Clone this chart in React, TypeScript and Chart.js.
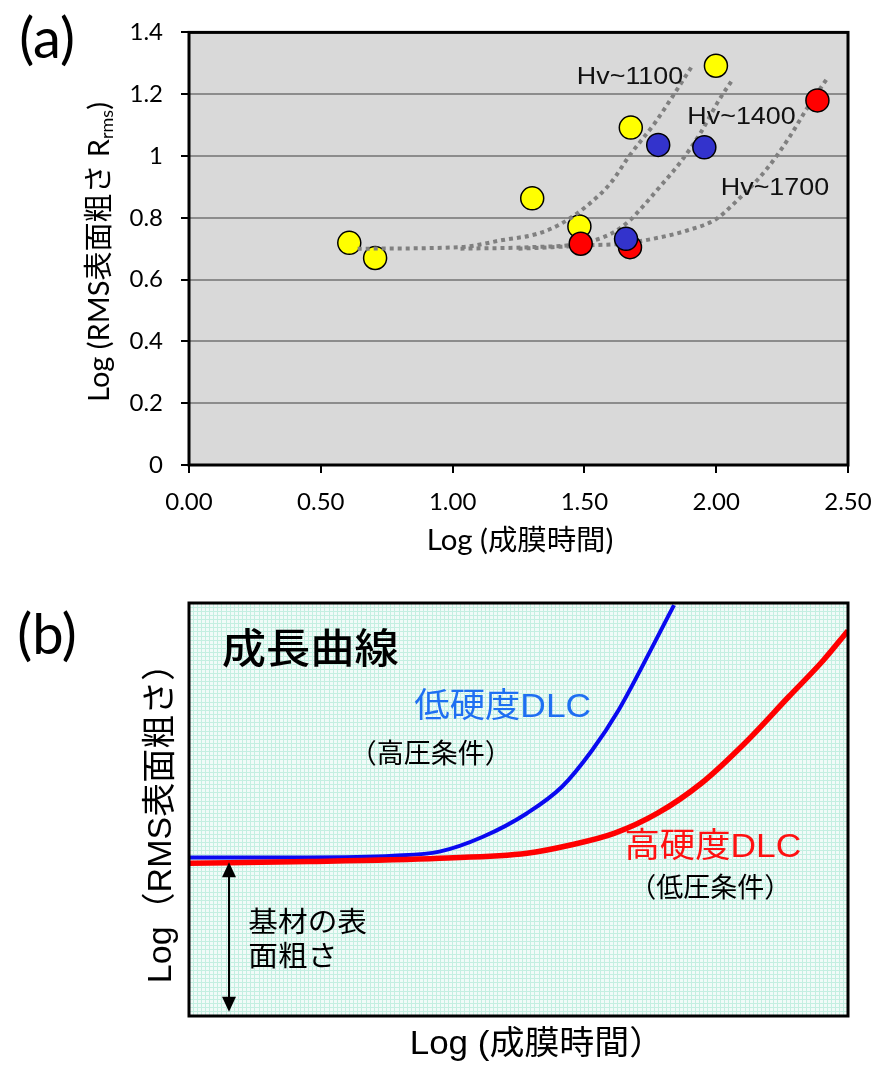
import React, { useEffect, useRef } from "react";
import { Chart, registerables } from "chart.js";
Chart.register(...registerables);

// ---------- Panel (a) data ----------
const yellowX = [0.608, 0.706, 1.302, 1.481, 1.676, 1.999];
const yellowY = [0.719, 0.67, 0.863, 0.772, 1.092, 1.292];
const redX = [1.486, 1.673, 2.384];
const redY = [0.716, 0.705, 1.18];
const blueX = [1.658, 1.78, 1.955];
const blueY = [0.732, 1.036, 1.028];

const hv1100X = [0.64, 1.03, 1.19, 1.32, 1.41, 1.51, 1.6, 1.67, 1.77, 1.84, 1.91];
const hv1100Y = [0.7, 0.705, 0.728, 0.748, 0.78, 0.839, 0.913, 1.0, 1.11, 1.2, 1.293];
const hv1400X = [1.03, 1.3, 1.48, 1.6, 1.67, 1.72, 1.79, 1.86, 1.94, 2.01, 2.06];
const hv1400Y = [0.7, 0.705, 0.716, 0.748, 0.79, 0.835, 0.904, 0.975, 1.074, 1.18, 1.245];
const hv1700X = [1.25, 1.38, 1.51, 1.64, 1.76, 1.89, 2.0, 2.06, 2.19, 2.28, 2.34, 2.42];
const hv1700Y = [0.7, 0.705, 0.711, 0.716, 0.732, 0.759, 0.796, 0.84, 0.956, 1.064, 1.148, 1.25];

const hvLabels = ["Hv~1100", "Hv~1400", "Hv~1700"];
const hvLabelX = [1.673, 2.096, 2.223];
const hvLabelY = [1.256, 1.125, 0.894];

const xTicksA = [0, 0.5, 1.0, 1.5, 2.0, 2.5];

// ---------- Panel (b) data ----------
const lowHardX = [0, 18, 31, 38, 44.6, 51.3, 56.6, 61.2, 65.2, 68.5, 71.1, 73.6];
const lowHardY = [38.4, 38.4, 38.8, 39.8, 43.4, 49.1, 55.5, 64.4, 74.1, 83.8, 91.8, 99.5];
const highHardX = [0, 18.2, 38, 51.3, 57.9, 64.5, 71.1, 77.7, 84.3, 91, 96.3, 100];
const highHardY = [37.0, 37.4, 38.2, 39.4, 41.4, 44.2, 49.1, 56.3, 66.0, 77.3, 86.2, 93.3];

const fontA = 'Lato, "Noto Sans CJK JP", sans-serif';
const fontB = '"Liberation Sans", "Noto Sans CJK JP", sans-serif';

const xy = (xs: number[], ys: number[]) => xs.map((x, i) => ({ x, y: ys[i] }));

const H_A = 575;
const H_B = 492;

function stretchedText(ctx: any, text: string, x: number, y: number, sx: number) {
  ctx.save();
  ctx.translate(x, y);
  ctx.scale(sx, 1);
  ctx.fillText(text, 0, 0);
  ctx.restore();
}

const panelAPlugin = {
  id: "panelA",
  beforeDraw(chart: any) {
    const { ctx, chartArea } = chart;
    const { left, top, right, bottom } = chartArea;
    ctx.save();
    ctx.fillStyle = "#d9d9d9";
    ctx.fillRect(left, top, right - left, bottom - top);
    ctx.restore();
  },
  afterDraw(chart: any) {
    const { ctx, chartArea, scales } = chart;
    const { left, top, right, bottom } = chartArea;
    ctx.save();
    ctx.strokeStyle = "#000";
    ctx.lineWidth = 3;
    ctx.strokeRect(left, top, right - left, bottom - top);

    // Hv labels
    ctx.fillStyle = "#111";
    ctx.font = `24px ${fontB}`;
    ctx.textAlign = "center";
    ctx.textBaseline = "middle";
    hvLabels.forEach((t, i) => {
      stretchedText(ctx, t, scales.x.getPixelForValue(hvLabelX[i]), scales.y.getPixelForValue(hvLabelY[i]), 1.12);
    });

    // x title
    ctx.fillStyle = "#000";
    ctx.font = `28px ${fontA}`;
    stretchedText(ctx, "Log (成膜時間)", 520, 541, 1.05);

    // y title with subscript
    ctx.save();
    ctx.translate(100, 252);
    ctx.rotate(-Math.PI / 2);
    ctx.textAlign = "left";
    const p1 = "Log (RMS表面粗さ R";
    ctx.font = `29px ${fontA}`;
    const w1 = ctx.measureText(p1).width;
    const w3 = ctx.measureText(")").width;
    ctx.font = `18px ${fontA}`;
    const w2 = ctx.measureText("rms").width;
    const x0 = -(w1 + w2 + w3) / 2;
    ctx.font = `29px ${fontA}`;
    ctx.fillText(p1, x0, 0);
    ctx.font = `18px ${fontA}`;
    ctx.fillText("rms", x0 + w1, 7);
    ctx.font = `29px ${fontA}`;
    ctx.fillText(")", x0 + w1 + w2, 0);
    ctx.restore();

    // panel label
    ctx.font = `56px ${fontA}`;
    ctx.textAlign = "center";
    ctx.textBaseline = "middle";
    ctx.fillText("(a)", 47, 40);
    ctx.restore();
  },
};

const panelBPlugin = {
  id: "panelB",
  beforeDraw(chart: any) {
    const { ctx, chartArea } = chart;
    const { left, top, right, bottom } = chartArea;
    ctx.save();
    ctx.fillStyle = "#f1fbf8";
    ctx.fillRect(left, top, right - left, bottom - top);
    ctx.restore();
  },
  afterDatasetsDraw(chart: any) {
    const { ctx, chartArea, scales } = chart;
    const { left, top, right, bottom } = chartArea;
    const X = (v: number) => scales.x.getPixelForValue(v);
    const Y = (v: number) => scales.y.getPixelForValue(v);
    ctx.save();
    // arrow
    const ax = X(6.07);
    const yTop = Y(37.2);
    const yBot = Y(1.0);
    ctx.strokeStyle = "#000";
    ctx.fillStyle = "#000";
    ctx.lineWidth = 2;
    ctx.beginPath();
    ctx.moveTo(ax, yTop + 10);
    ctx.lineTo(ax, yBot - 10);
    ctx.stroke();
    ctx.beginPath();
    ctx.moveTo(ax, yTop);
    ctx.lineTo(ax - 7, yTop + 15);
    ctx.lineTo(ax + 7, yTop + 15);
    ctx.closePath();
    ctx.fill();
    ctx.beginPath();
    ctx.moveTo(ax, yBot);
    ctx.lineTo(ax - 7, yBot - 15);
    ctx.lineTo(ax + 7, yBot - 15);
    ctx.closePath();
    ctx.fill();

    // frame
    ctx.lineWidth = 3;
    ctx.strokeRect(left, top, right - left, bottom - top);

    // texts
    ctx.textAlign = "center";
    ctx.textBaseline = "middle";
    ctx.fillStyle = "#000";
    ctx.font = `500 41px ${fontB}`;
    stretchedText(ctx, "成長曲線", X(18.4), Y(88.1), 1.08);

    ctx.fillStyle = "#1f6ff2";
    ctx.font = `34px ${fontB}`;
    stretchedText(ctx, "低硬度DLC", X(47.6), Y(74.6), 1.04);
    ctx.fillStyle = "#000";
    ctx.font = `27px ${fontB}`;
    stretchedText(ctx, "（高圧条件）", X(36.7), Y(63.0), 1.0);

    ctx.fillStyle = "#ff1111";
    ctx.font = `34px ${fontB}`;
    stretchedText(ctx, "高硬度DLC", X(79.5), Y(40.7), 1.04);
    ctx.fillStyle = "#000";
    ctx.font = `27px ${fontB}`;
    stretchedText(ctx, "（低圧条件）", X(79.1), Y(30.5), 1.0);

    ctx.textAlign = "left";
    ctx.font = `28px ${fontB}`;
    stretchedText(ctx, "基材の表", X(9.0), Y(22.3), 1.06);
    stretchedText(ctx, "面粗さ", X(9.0), Y(14.0), 1.06);

    // axis titles
    ctx.textAlign = "center";
    ctx.font = `33px ${fontB}`;
    stretchedText(ctx, "Log (成膜時間）", 537, 470, 1.06);
    ctx.save();
    ctx.translate(162, 240);
    ctx.rotate(-Math.PI / 2);
    ctx.font = `34px ${fontB}`;
    ctx.fillText("Log（RMS表面粗さ）", 0, 0);
    ctx.restore();

    ctx.font = `56px ${fontA}`;
    ctx.fillText("(b)", 47, 61);
    ctx.restore();
  },
};

export default function App() {
  const refA = useRef<HTMLCanvasElement>(null);
  const refB = useRef<HTMLCanvasElement>(null);

  useEffect(() => {
    const pt = (color: string, order: number) => ({
      backgroundColor: color,
      borderColor: "#000",
      borderWidth: 1.5,
      pointRadius: 11.5,
      pointHoverRadius: 11.5,
      showLine: false,
      order,
    });
    const dotted = (order: number) => ({
      showLine: true,
      borderColor: "#808080",
      borderWidth: 4,
      borderDash: [4, 4],
      borderCapStyle: "butt",
      pointRadius: 0,
      cubicInterpolationMode: "monotone",
      fill: false,
      order,
    });

    const chartA = new Chart(refA.current!, {
      type: "scatter",
      data: {
        datasets: [
          { label: "yellow", data: xy(yellowX, yellowY), ...pt("#ffff00", 5) },
          { label: "Hv~1100", data: xy(hv1100X, hv1100Y), ...dotted(4) },
          { label: "Hv~1400", data: xy(hv1400X, hv1400Y), ...dotted(4) },
          { label: "Hv~1700", data: xy(hv1700X, hv1700Y), ...dotted(4) },
          { label: "red", data: xy(redX, redY), ...pt("#ff0000", 2) },
          { label: "blue", data: xy(blueX, blueY), ...pt("#3333cc", 1) },
        ] as any,
      },
      options: {
        responsive: false,
        animation: false,
        layout: { padding: { left: 0, right: 32, top: 28, bottom: 0 } },
        plugins: { legend: { display: false }, tooltip: { enabled: false } },
        scales: {
          x: {
            type: "linear",
            min: 0,
            max: 2.5,
            afterBuildTicks: (s: any) => {
              s.ticks = xTicksA.map((v) => ({ value: v }));
            },
            afterFit: (s: any) => {
              s.height = H_A - 465;
              s.paddingLeft = 0;
              s.paddingRight = 0;
            },
            ticks: {
              callback: (v: any) => Number(v).toFixed(2),
              font: { family: fontA, size: 24 },
              color: "#000",
              padding: 15,
              maxRotation: 0,
              autoSkip: false,
            },
            grid: { drawOnChartArea: false, drawTicks: true, tickLength: 8, tickColor: "#000", tickWidth: 2, lineWidth: 2 },
            border: { display: false },
          },
          y: {
            type: "linear",
            min: 0,
            max: 1.4,
            ticks: {
              stepSize: 0.2,
              callback: (v: any) => String(Number(Number(v).toFixed(1))),
              font: { family: fontA, size: 24 },
              color: "#000",
              padding: 18,
            },
            afterFit: (s: any) => {
              s.width = 189;
            },
            grid: { color: "#8c8c8c", lineWidth: 2, tickLength: 8, tickColor: "#000", tickWidth: 2 },
            border: { display: false },
          },
        },
      } as any,
      plugins: [panelAPlugin],
    });

    const chartB = new Chart(refB.current!, {
      type: "scatter",
      data: {
        datasets: [
          {
            label: "低硬度DLC",
            data: xy(lowHardX, lowHardY),
            showLine: true,
            borderColor: "#0a0af0",
            borderWidth: 4,
            pointRadius: 0,
            cubicInterpolationMode: "monotone",
            order: 2,
          },
          {
            label: "高硬度DLC",
            data: xy(highHardX, highHardY),
            showLine: true,
            borderColor: "#ff0000",
            borderWidth: 5.5,
            pointRadius: 0,
            cubicInterpolationMode: "monotone",
            order: 1,
          },
        ] as any,
      },
      options: {
        responsive: false,
        animation: false,
        layout: { padding: { left: 189, right: 32, top: 28, bottom: H_B - 441 } },
        plugins: { legend: { display: false }, tooltip: { enabled: false } },
        scales: {
          x: {
            type: "linear",
            min: 0,
            max: 100,
            ticks: { display: false, stepSize: 0.625, autoSkip: false },
            grid: { color: "#c4efe1", lineWidth: 1, drawTicks: false },
            border: { display: false },
            afterFit: (s: any) => {
              s.height = 0;
            },
          },
          y: {
            type: "linear",
            min: 0,
            max: 100,
            ticks: { display: false, stepSize: 1, autoSkip: false },
            grid: { color: "#c4efe1", lineWidth: 1, drawTicks: false },
            border: { display: false },
            afterFit: (s: any) => {
              s.width = 0;
            },
          },
        },
      } as any,
      plugins: [panelBPlugin],
    });

    return () => {
      chartA.destroy();
      chartB.destroy();
    };
  }, []);

  return (
    <div style={{ position: "fixed", left: 0, top: 0, width: 880, height: 1067, background: "#fff" }}>
      <canvas ref={refA} width={880} height={H_A} style={{ position: "absolute", left: 0, top: 0 }} />
      <canvas ref={refB} width={880} height={H_B} style={{ position: "absolute", left: 0, top: H_A }} />
    </div>
  );
}
